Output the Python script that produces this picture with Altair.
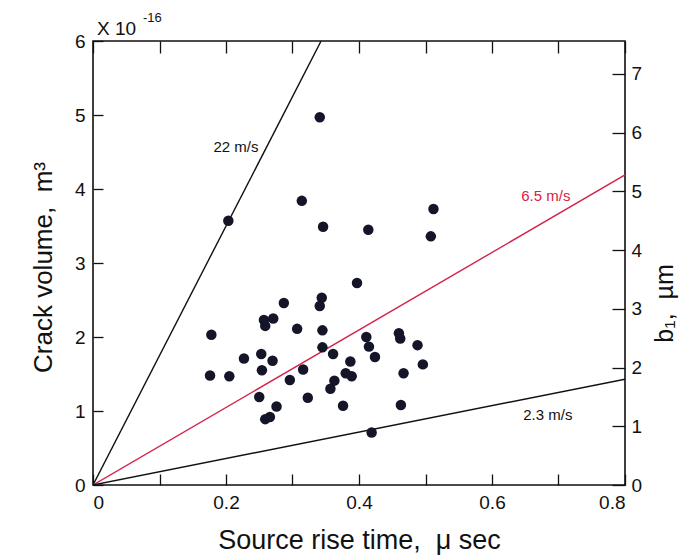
import altair as alt
import pandas as pd

# ---- data ----
rise_time = [0.2035, 0.341, 0.314, 0.346, 0.414, 0.512, 0.508, 0.397, 0.344, 0.341,
             0.287, 0.257, 0.271, 0.259, 0.178, 0.307, 0.345, 0.345, 0.361, 0.411,
             0.415, 0.424, 0.460, 0.462, 0.488, 0.496, 0.387, 0.380, 0.389, 0.363,
             0.357, 0.467, 0.323, 0.376, 0.463, 0.419, 0.227, 0.253, 0.270, 0.254,
             0.176, 0.205, 0.316, 0.296, 0.250, 0.276, 0.259, 0.266]
crack_volume = [3.57, 4.97, 3.84, 3.49, 3.45, 3.73, 3.36, 2.73, 2.53, 2.42,
                2.46, 2.23, 2.25, 2.15, 2.03, 2.11, 2.09, 1.86, 1.77, 2.00,
                1.87, 1.73, 2.05, 1.98, 1.89, 1.63, 1.67, 1.51, 1.47, 1.41,
                1.30, 1.51, 1.18, 1.07, 1.08, 0.71, 1.71, 1.77, 1.68, 1.55,
                1.48, 1.47, 1.56, 1.42, 1.19, 1.06, 0.89, 0.92]

line_names = ["22 m/s", "6.5 m/s", "2.3 m/s"]
line_end_t = [0.343, 0.8, 0.8]
line_end_v = [6.0, 4.19, 1.43]
line_colors = ["#111111", "#d6224b", "#111111"]
label_t = [0.215, 0.681, 0.684]
label_v = [4.57, 3.90, 0.95]

x_ticks = [0, 0.1, 0.2, 0.3, 0.4, 0.5, 0.6, 0.7, 0.8]
x_labels = [0, 0.2, 0.4, 0.6, 0.8]
y_ticks = [0, 1, 2, 3, 4, 5, 6]
b1_ticks = [0, 1, 2, 3, 4, 5, 6, 7]
x_domain = [0, 0.8]
y_domain = [0, 6]
b1_domain = [0, 7.56]

NB = "\u00a0"
x_title = "Source rise time," + NB * 2 + "\u03bc sec"
y_title = "Crack volume," + NB * 2 + "m\u00b3"
b1_title = "b\u2081," + NB * 2 + "\u00b5m"

# ---- tables ----
pts = pd.DataFrame({"t": rise_time, "V": crack_volume})
rows = []
for n, et, ev in zip(line_names, line_end_t, line_end_v):
    rows.append({"name": n, "t": 0.0, "V": 0.0})
    rows.append({"name": n, "t": et, "V": ev})
lines = pd.DataFrame(rows)
labels = pd.DataFrame({"name": line_names, "t": label_t, "V": label_v})
b1df = pd.DataFrame({"b1": b1_ticks, "t": [x_domain[0]] * len(b1_ticks)})

W, H = 532, 444
FONT = "Liberation Sans"
INK = "#111111"

xs = alt.Scale(domain=x_domain, nice=False, zero=False)
ys = alt.Scale(domain=y_domain, nice=False, zero=False)
bs = alt.Scale(domain=b1_domain, nice=False, zero=False)
cs = alt.Scale(domain=line_names, range=line_colors)

common = dict(grid=False, labelFont=FONT, titleFont=FONT, labelColor=INK,
              titleColor=INK, tickColor=INK, titleFontWeight="normal")

x_lab = alt.Axis(orient="bottom", values=x_labels, ticks=False, domain=False,
                 labelExpr="datum.value == 0 ? '0' : format(datum.value, '.1f')",
                 labelFontSize=19, labelPadding=8,
                 title=x_title, titleFontSize=27,
                 titleY=55, titleBaseline="middle", **common)
y_lab = alt.Axis(orient="left", values=y_ticks, format="d", ticks=False, domain=False,
                 labelFontSize=19, labelPadding=8,
                 title=y_title, titleFontSize=26, titleAngle=270,
                 titleX=-50, titleY=H / 2 + 4, titleAlign="center", titleBaseline="middle",
                 **common)
x_tick_b = alt.Axis(orient="bottom", values=x_ticks, labels=False, domain=False,
                    tickSize=11, offset=-11, tickWidth=1.3, title=None, **common)
y_tick_l = alt.Axis(orient="left", values=y_ticks, labels=False, domain=False,
                    tickSize=10, offset=-10, tickWidth=1.3, title=None, **common)
x_tick_t = alt.Axis(orient="top", values=x_ticks, labels=False, domain=False,
                    tickSize=12, offset=-12, tickWidth=1.3, title=None, **common)
b1_lab = alt.Axis(orient="right", values=b1_ticks, format="d", ticks=False, domain=False,
                  labelFontSize=19, labelPadding=6,
                  title=b1_title, titleFontSize=25, titleAngle=270,
                  titleX=39, titleY=H / 2 + 40, titleAlign="center", titleBaseline="middle",
                  **common)
b1_tick = alt.Axis(orient="right", values=b1_ticks, labels=False, domain=False,
                   tickSize=13, offset=-13, tickWidth=1.3, title=None, **common)

ax1 = alt.Chart(pts).mark_point(opacity=0).encode(
    x=alt.X("t:Q", scale=xs, axis=x_lab), y=alt.Y("V:Q", scale=ys, axis=y_lab))
ax2 = alt.Chart(pts).mark_point(opacity=0).encode(
    x=alt.X("t:Q", scale=xs, axis=x_tick_b), y=alt.Y("V:Q", scale=ys, axis=y_tick_l))
ax3 = alt.Chart(b1df).mark_point(opacity=0).encode(
    x=alt.X("t:Q", scale=xs, axis=x_tick_t), y=alt.Y("b1:Q", scale=bs, axis=b1_lab))
ax4 = alt.Chart(b1df).mark_point(opacity=0).encode(
    x=alt.X("t:Q", scale=xs, axis=None), y=alt.Y("b1:Q", scale=bs, axis=b1_tick))

line_layer = alt.Chart(lines).mark_line(strokeWidth=1.4, clip=True).encode(
    x=alt.X("t:Q", scale=xs, axis=None),
    y=alt.Y("V:Q", scale=ys, axis=None),
    color=alt.Color("name:N", scale=cs, legend=None),
    detail="name:N")

pt_layer = alt.Chart(pts).mark_circle(size=110, opacity=1, color="#15152a").encode(
    x=alt.X("t:Q", scale=xs, axis=None), y=alt.Y("V:Q", scale=ys, axis=None))

lab_layer = alt.Chart(labels).mark_text(fontSize=15, font=FONT).encode(
    x=alt.X("t:Q", scale=xs, axis=None), y=alt.Y("V:Q", scale=ys, axis=None),
    text="name:N", color=alt.Color("name:N", scale=cs, legend=None))

exp_base = alt.Chart(pd.DataFrame({"s": ["X 10"]})).mark_text(
    align="left", baseline="alphabetic", fontSize=19, font=FONT, color=INK).encode(
    x=alt.value(4), y=alt.value(-6), text="s:N")
exp_sup = alt.Chart(pd.DataFrame({"s": ["-16"]})).mark_text(
    align="left", baseline="alphabetic", fontSize=13, font=FONT, color=INK).encode(
    x=alt.value(50), y=alt.value(-19), text="s:N")

chart = alt.layer(ax1, ax2, ax3, ax4, line_layer, pt_layer, lab_layer, exp_base, exp_sup).resolve_scale(
    x="independent", y="independent", color="shared"
).resolve_axis(x="independent", y="independent").properties(
    width=W, height=H,
    autosize=alt.AutoSizeParams(type="none"),
    padding={"left": 93, "top": 41, "right": 63, "bottom": 71},
    background="white",
).configure_view(stroke=INK, strokeWidth=1.6)

chart.save("out.html", embed_options={"renderer": "svg", "actions": False})
